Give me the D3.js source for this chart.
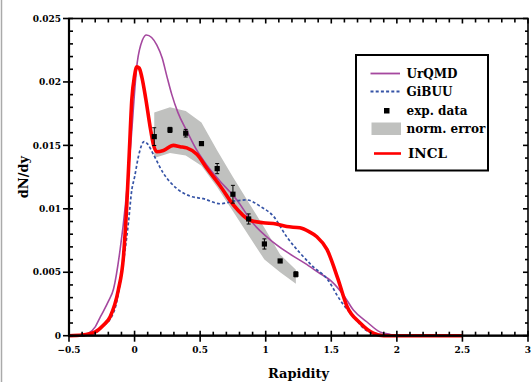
<!DOCTYPE html>
<html>
<head>
<meta charset="utf-8">
<script src="https://cdn.jsdelivr.net/npm/d3@7"></script>
<style>
  html, body { margin: 0; padding: 0; background: #fff; }
  svg { display: block; }
  text { font-family: "DejaVu Serif", serif; font-weight: bold; }
</style>
</head>
<body>
<svg id="chart" width="532" height="382"></svg>
<script>
// Rapidity distributions dN/dy: model curves and measured points
const urqmdX = [-0.4, -0.35, -0.3, -0.26, -0.2, -0.16, -0.11, -0.07, -0.03, 0.02, 0.06, 0.09, 0.13, 0.17, 0.21, 0.245, 0.284, 0.33, 0.4, 0.47, 0.55, 0.65, 0.73, 0.78, 0.9, 1.03, 1.16, 1.3, 1.4, 1.5, 1.6, 1.67, 1.77, 1.87, 1.95, 2.0];
const urqmdY = [0, 0.0002, 0.0007, 0.0015, 0.0027, 0.0037, 0.0068, 0.0103, 0.0150, 0.0215, 0.0233, 0.0237, 0.0235, 0.0229, 0.0219, 0.0205, 0.0190, 0.0176, 0.0161, 0.0147, 0.01346, 0.0122, 0.0113, 0.0107, 0.0089, 0.0076, 0.0066, 0.0057, 0.0050, 0.0043, 0.0031, 0.0020, 0.0011, 0.0003, 0.0001, 0];

const gibuuX = [-0.4, -0.3, -0.24, -0.186, -0.14, -0.098, -0.047, -0.021, 0.0, 0.029, 0.073, 0.1, 0.143, 0.22, 0.322, 0.424, 0.525, 0.653, 0.754, 0.856, 0.958, 1.06, 1.16, 1.263, 1.365, 1.467, 1.568, 1.67, 1.77, 1.87, 1.95];
const gibuuY = [0, 0.0002, 0.0008, 0.0013, 0.0025, 0.0049, 0.0089, 0.0115, 0.0125, 0.0141, 0.0153, 0.0151, 0.0143, 0.0128, 0.0116, 0.0110, 0.0108, 0.0104, 0.0106, 0.0107, 0.0102, 0.0094, 0.0078, 0.0065, 0.0054, 0.0045, 0.0028, 0.0015, 0.0004, 0.0001, 0];

const inclX = [-0.5, -0.4, -0.3, -0.24, -0.186, -0.124, -0.085, -0.06, -0.04, -0.021, 0.0, 0.017, 0.035, 0.055, 0.085, 0.118, 0.145, 0.169, 0.22, 0.296, 0.347, 0.398, 0.475, 0.551, 0.653, 0.754, 0.88, 0.98, 1.08, 1.16, 1.26, 1.33, 1.39, 1.467, 1.55, 1.62, 1.72, 1.82, 1.9, 2.5];
const inclY = [0, 0.00005, 0.0003, 0.0008, 0.0015, 0.0036, 0.0062, 0.0102, 0.0145, 0.0186, 0.0205, 0.0212, 0.0211, 0.0204, 0.0187, 0.0165, 0.0150, 0.0145, 0.0146, 0.0150, 0.0149, 0.0148, 0.0143, 0.0132, 0.0118, 0.0103, 0.0091, 0.0089, 0.0088, 0.0086, 0.0085, 0.0082, 0.0078, 0.0068, 0.0045, 0.0023, 0.0010, 0.0002, 0, 0];

const expX = [0.15, 0.27, 0.39, 0.51, 0.63, 0.75, 0.87, 0.99, 1.11, 1.23];
const expY = [0.01569, 0.01622, 0.01596, 0.01514, 0.01317, 0.01115, 0.0092, 0.00723, 0.00589, 0.00484];
const expErr = [0.0007, 0.0002, 0.0003, 0.0001, 0.0004, 0.0007, 0.0004, 0.0004, 0.0001, 0.0002];

// normalisation error band
const bandHigh = [0.0176, 0.0180, 0.0177, 0.0168, 0.0146, 0.0125, 0.0105, 0.0085, 0.0064, 0.0052];
const bandLow  = [0.0140, 0.0144, 0.0142, 0.0134, 0.0117, 0.0098, 0.0079, 0.0060, 0.0050, 0.0041];

const xTicks = [-0.5, 0, 0.5, 1, 1.5, 2, 2.5, 3];
const xTickLabels = ["\u22120.5", "0", "0.5", "1", "1.5", "2", "2.5", "3"];
const yTicks = [0, 0.005, 0.01, 0.015, 0.02, 0.025];
const yTickLabels = ["0", "0.005", "0.01", "0.015", "0.02", "0.025"];

const legendLabels = ["UrQMD", "GiBUU", "exp. data", "norm. error", "INCL"];

const colUrqmd = "#a5489f", colGibuu = "#3553a6", colIncl = "#ff0000", colBand = "#c0c1bf";

const svg = d3.select("#chart");
const L = 69, R = 528, T = 18.5, B = 335.7;
const x = d3.scaleLinear().domain([-0.5, 3]).range([L, R]);
const y = d3.scaleLinear().domain([0, 0.025]).range([B, T]);

// thin frame line at the figure's left edge
svg.append("line").attr("x1", 1.5).attr("x2", 1.5).attr("y1", 0).attr("y2", 382)
  .attr("stroke", "#aaa").attr("stroke-width", 1.5);

svg.append("defs").append("clipPath").attr("id", "plot")
  .append("rect").attr("x", L).attr("y", T).attr("width", R - L).attr("height", B - T + 3);

const g = svg.append("g").attr("clip-path", "url(#plot)");

// band
const bandData = expX.map((v, i) => ({ x: v, lo: bandLow[i], hi: bandHigh[i] }));
g.append("path").datum(bandData)
  .attr("d", d3.area().x(d => x(d.x)).y0(d => y(d.lo)).y1(d => y(d.hi)))
  .attr("fill", colBand);

const line = d3.line().x(d => x(d[0])).y(d => y(d[1])).curve(d3.curveMonotoneX);

g.append("path").datum(urqmdX.map((v, i) => [v, urqmdY[i]]))
  .attr("d", line).attr("fill", "none").attr("stroke", colUrqmd).attr("stroke-width", 1.6);

g.append("path").datum(gibuuX.map((v, i) => [v, gibuuY[i]]))
  .attr("d", line).attr("fill", "none").attr("stroke", colGibuu).attr("stroke-width", 1.7)
  .attr("stroke-dasharray", "3,2.2");

g.append("path").datum(inclX.map((v, i) => [v, inclY[i]]))
  .attr("d", line).attr("fill", "none").attr("stroke", colIncl).attr("stroke-width", 3.6)
  .attr("stroke-linejoin", "round");

// experimental points with error bars
const pts = g.append("g");
expX.forEach((v, i) => {
  const cx = x(v), y1 = y(expY[i] + expErr[i]), y0 = y(expY[i] - expErr[i]);
  pts.append("line").attr("x1", cx).attr("x2", cx).attr("y1", y1).attr("y2", y0)
    .attr("stroke", "#000").attr("stroke-width", 1);
  [y0, y1].forEach(yy => pts.append("line").attr("x1", cx - 2).attr("x2", cx + 2)
    .attr("y1", yy).attr("y2", yy).attr("stroke", "#000").attr("stroke-width", 1));
  pts.append("rect").attr("x", cx - 2.6).attr("y", y(expY[i]) - 2.6)
    .attr("width", 5.2).attr("height", 5.2).attr("fill", "#000");
});

// axes frame
const axes = svg.append("g").attr("stroke", "#000");
axes.append("rect").attr("x", L).attr("y", T).attr("width", R - L).attr("height", B - T)
  .attr("fill", "none").attr("stroke-width", 1.6);
axes.append("line").attr("x1", L).attr("x2", L).attr("y1", T).attr("y2", B + 1).attr("stroke-width", 2.2);
axes.append("line").attr("x1", L - 1).attr("x2", R).attr("y1", B).attr("y2", B).attr("stroke-width", 2.2);

// x ticks
d3.range(-0.5, 3.0001, 0.1).forEach(v => {
  const px = x(v);
  const major = Math.abs(Math.round(v * 2) - v * 2) < 1e-6;
  axes.append("line").attr("x1", px).attr("x2", px)
    .attr("y1", major ? B + 6 : B).attr("y2", major ? B - 5 : B - 4).attr("stroke-width", 1.6);
  axes.append("line").attr("x1", px).attr("x2", px)
    .attr("y1", T).attr("y2", T + (major ? 5 : 4)).attr("stroke-width", 1.6);
});
// y ticks
d3.range(0, 0.02501, 0.001).forEach(v => {
  const py = y(v);
  const major = Math.abs(Math.round(v / 0.005) * 0.005 - v) < 1e-9;
  axes.append("line").attr("x1", major ? L - 6 : L).attr("x2", L + 4)
    .attr("y1", py).attr("y2", py).attr("stroke-width", 1.6);
  axes.append("line").attr("x1", R).attr("x2", R - (major ? 5 : 3))
    .attr("y1", py).attr("y2", py).attr("stroke-width", 1.6);
});

// tick labels
svg.append("g").selectAll("text").data(xTicks).join("text")
  .attr("x", d => x(d)).attr("y", 353).attr("text-anchor", "middle")
  .attr("font-size", 9).text((d, i) => xTickLabels[i]);
svg.append("g").selectAll("text").data(yTicks).join("text")
  .attr("x", 61).attr("y", d => y(d) + 3.2).attr("text-anchor", "end")
  .attr("font-size", 9).text((d, i) => yTickLabels[i]);

// axis titles
svg.append("text").attr("x", (L + R) / 2).attr("y", 377.5).attr("text-anchor", "middle")
  .attr("font-size", 13).text("Rapidity");
svg.append("text").attr("transform", `translate(28,${(T + B) / 2}) rotate(-90)`)
  .attr("text-anchor", "middle").attr("font-size", 13).text("dN/dy");

// legend
const lg = svg.append("g");
lg.append("rect").attr("x", 356).attr("y", 55).attr("width", 132).attr("height", 115.5)
  .attr("fill", "#fff").attr("stroke", "#000").attr("stroke-width", 2);
lg.append("line").attr("x1", 370.5).attr("x2", 400).attr("y1", 73.5).attr("y2", 73.5)
  .attr("stroke", colUrqmd).attr("stroke-width", 1.8);
lg.append("line").attr("x1", 370.5).attr("x2", 401).attr("y1", 91.5).attr("y2", 91.5)
  .attr("stroke", colGibuu).attr("stroke-width", 1.8).attr("stroke-dasharray", "3,2.2");
lg.append("rect").attr("x", 384).attr("y", 108).attr("width", 5.5).attr("height", 5.5).attr("fill", "#000");
lg.append("rect").attr("x", 371.5).attr("y", 122.5).attr("width", 29.5).attr("height", 12.5).attr("fill", colBand);
lg.append("line").attr("x1", 374).attr("x2", 401).attr("y1", 153.5).attr("y2", 153.5)
  .attr("stroke", colIncl).attr("stroke-width", 2.6);
const legendY = [77.8, 95.8, 114.6, 132.8, 158];
lg.selectAll("text").data(legendLabels).join("text")
  .attr("x", (d, i) => i === 4 ? 408 : 406.5).attr("y", (d, i) => legendY[i])
  .attr("font-size", (d, i) => i === 4 ? 13.5 : 12).text(d => d);
</script>
</body>
</html>
